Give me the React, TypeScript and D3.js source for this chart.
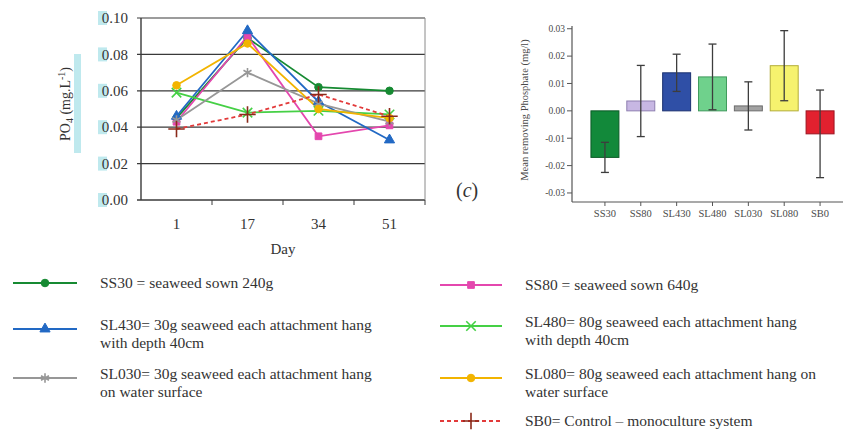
import React from "react";
import * as d3 from "d3";

// day-by-day PO4 (mg/L)
const days = ["1", "17", "34", "51"];
const ss30 = [0.045, 0.089, 0.062, 0.06];
const ss80 = [0.043, 0.09, 0.035, 0.041];
const sl430 = [0.046, 0.093, 0.054, 0.033];
const sl480 = [0.059, 0.048, 0.049, 0.047];
const sl030 = [0.044, 0.07, 0.053, 0.043];
const sl080 = [0.063, 0.086, 0.05, 0.045];
const sb0 = [0.039, 0.047, 0.058, 0.046];
const lineTicks = [0, 0.02, 0.04, 0.06, 0.08, 0.1];

// mean removing phosphate
const groups = ["SS30", "SS80", "SL430", "SL480", "SL030", "SL080", "SB0"];
const means = [-0.017, 0.0036, 0.0139, 0.0124, 0.0018, 0.0165, -0.0084];
const errs = [0.0055, 0.013, 0.0068, 0.012, 0.0088, 0.0128, 0.016];
const barTicks = [0.03, 0.02, 0.01, 0, -0.01, -0.02, -0.03];
const barColors = ["#12893a", "#c7b7e3", "#2f4fa6", "#6fd18c", "#a2a2a2", "#f6f26e", "#e2212f"];
const barEdges = ["#0b5a26", "#8e7fb0", "#1b3170", "#3f9a5c", "#6c6c6c", "#b3ad3a", "#9c1420"];

const series = [
  { key: "SS30", values: ss30, color: "#168a32", symbol: "circle", dash: null },
  { key: "SS80", values: ss80, color: "#e447ae", symbol: "square", dash: null },
  { key: "SL430", values: sl430, color: "#2269c4", symbol: "triangle", dash: null },
  { key: "SL480", values: sl480, color: "#45d045", symbol: "times", dash: null },
  { key: "SL030", values: sl030, color: "#979797", symbol: "asterisk", dash: null },
  { key: "SL080", values: sl080, color: "#f2b400", symbol: "circle", dash: null },
  { key: "SB0", values: sb0, color: "#e23a3a", symbol: "plus", dash: "4,3" },
];

const legendLeft = [
  { s: 0, lines: ["SS30 = seaweed sown 240g"] },
  { s: 2, lines: ["SL430= 30g seaweed each attachment  hang", "with depth 40cm"] },
  { s: 4, lines: ["SL030= 30g seaweed each attachment hang", "on water surface"] },
];
const legendRight = [
  { s: 1, lines: ["SS80 = seaweed sown 640g"] },
  { s: 3, lines: ["SL480= 80g seaweed each attachment hang", "with depth 40cm"] },
  { s: 5, lines: ["SL080= 80g seaweed each attachment hang on", "water surface"] },
  { s: 6, lines: ["SB0= Control \u2013 monoculture system"] },
];

const symbolTypes: any = {
  circle: d3.symbolCircle,
  square: d3.symbolSquare,
  triangle: d3.symbolTriangle,
  times: d3.symbolTimes,
  asterisk: d3.symbolAsterisk,
  plus: d3.symbolPlus,
};
const strokeSymbols = ["times", "asterisk", "plus"];

function Marker({ s, x, y }: any) {
  const sr = series[s];
  const size = sr.symbol === "plus" ? 90 : strokeSymbols.includes(sr.symbol) ? 60 : 45;
  const path = d3.symbol(symbolTypes[sr.symbol], size)();
  const stroked = strokeSymbols.includes(sr.symbol);
  const col = sr.key === "SB0" ? "#8a2a1a" : sr.color;
  return (
    <path
      d={path || ""}
      transform={`translate(${x},${y})`}
      fill={stroked ? "none" : col}
      stroke={col}
      strokeWidth={stroked ? 1.6 : 1}
    />
  );
}

export default function App() {
  const font = "Liberation Serif, DejaVu Serif, serif";

  // line chart
  const x = d3.scaleBand().domain(days).range([141, 425]);
  const y = d3.scaleLinear().domain([0, 0.1]).range([200, 18]);
  const line = (vals: number[]) =>
    d3
      .line<number>()
      .x((_, i) => (x(days[i]) as number) + x.bandwidth() / 2)
      .y((d) => y(d))(vals);

  // bar chart
  const bx = d3.scaleBand().domain(groups).range([587, 838]).paddingInner(0.22).paddingOuter(0.11);
  const by = d3.scaleLinear().domain([-0.0333, 0.031]).range([202, 26]);

  return (
    <svg
      width={843}
      height={430}
      style={{ position: "absolute", left: 0, top: 0, background: "#fff", fontFamily: font }}
    >
      {/* ---------- left line chart ---------- */}
      {lineTicks.map((t) => (
        <g key={t}>
          <line x1={137} x2={425} y1={y(t)} y2={y(t)} stroke="#3a3a3a" strokeWidth={t === 0 ? 1.4 : 1.2} />
          <rect x={98} y={y(t) - 7} width={9} height={14} fill="#bfe9ee" />
          <text x={128} y={y(t)} dy="0.35em" textAnchor="end" fontSize={15} fill="#333">
            {t.toFixed(2)}
          </text>
        </g>
      ))}
      <line x1={141} x2={141} y1={y(0.1)} y2={y(0)} stroke="#3a3a3a" strokeWidth={1.4} />
      <line x1={425} x2={425} y1={y(0.1)} y2={y(0)} stroke="#8a8a8a" strokeWidth={1} />
      {days.map((d, i) => (
        <g key={d}>
          <line
            x1={(x(d) as number) + x.bandwidth()}
            x2={(x(d) as number) + x.bandwidth()}
            y1={200}
            y2={205}
            stroke="#3a3a3a"
          />
          <text
            x={(x(d) as number) + x.bandwidth() / 2}
            y={224}
            dy="0.35em"
            textAnchor="middle"
            fontSize={15}
            fill="#333"
          >
            {d}
          </text>
        </g>
      ))}
      <text x={283} y={249} dy="0.35em" textAnchor="middle" fontSize={15} fill="#333">
        Day
      </text>
      <rect x={74} y={54} width={7} height={99} fill="#bfe9ee" />
      <text transform="translate(70,104) rotate(-90)" textAnchor="middle" fontSize={14} fill="#333">
        PO<tspan fontSize={10} dy={3}>4</tspan>
        <tspan dy={-3}> (mg.L</tspan>
        <tspan fontSize={10} dy={-5}>-1</tspan>
        <tspan dy={5}>)</tspan>
      </text>

      {series.map((sr) => (
        <path
          key={sr.key}
          d={line(sr.values) || ""}
          fill="none"
          stroke={sr.color}
          strokeWidth={1.8}
          strokeDasharray={sr.dash || undefined}
        />
      ))}
      {series.map((sr, s) =>
        sr.values.map((v, i) => (
          <Marker key={sr.key + i} s={s} x={(x(days[i]) as number) + x.bandwidth() / 2} y={y(v)} />
        ))
      )}

      <text x={456} y={197} fontSize={20} fill="#333">
        (<tspan fontStyle="italic">c</tspan>)
      </text>

      {/* ---------- right bar chart ---------- */}
      <line x1={572} x2={572} y1={26} y2={202} stroke="#555" strokeWidth={1.2} />
      <line x1={572} x2={843} y1={202} y2={202} stroke="#555" strokeWidth={1.2} />
      {barTicks.map((t) => (
        <g key={t}>
          <line x1={567} x2={572} y1={by(t)} y2={by(t)} stroke="#555" />
          <text x={565} y={by(t)} dy="0.35em" textAnchor="end" fontSize={9.5} fill="#4a4a4a">
            {t.toFixed(2)}
          </text>
        </g>
      ))}
      <text
        transform="translate(528,110) rotate(-90)"
        textAnchor="middle"
        fontSize={10.5}
        fill="#4a4a4a"
      >
        Mean removing Phosphate (mg/l)
      </text>
      {groups.map((g, i) => {
        const cx = (bx(g) as number) + bx.bandwidth() / 2;
        const top = by(Math.max(0, means[i]));
        const bot = by(Math.min(0, means[i]));
        return (
          <g key={g}>
            <rect
              x={bx(g) as number}
              y={top}
              width={bx.bandwidth()}
              height={Math.max(bot - top, 1)}
              fill={barColors[i]}
              stroke={barEdges[i]}
              strokeWidth={1}
            />
            <line x1={cx} x2={cx} y1={by(means[i] + errs[i])} y2={by(means[i] - errs[i])} stroke="#3d3d3d" strokeWidth={1.3} />
            <line x1={cx - 4} x2={cx + 4} y1={by(means[i] + errs[i])} y2={by(means[i] + errs[i])} stroke="#3d3d3d" strokeWidth={1.3} />
            <line x1={cx - 4} x2={cx + 4} y1={by(means[i] - errs[i])} y2={by(means[i] - errs[i])} stroke="#3d3d3d" strokeWidth={1.3} />
            <line x1={cx} x2={cx} y1={202} y2={206} stroke="#555" />
            <text x={cx} y={213} dy="0.35em" textAnchor="middle" fontSize={10.5} fill="#4a4a4a">
              {g}
            </text>
          </g>
        );
      })}

      {/* ---------- legend ---------- */}
      {[
        { items: legendLeft, x0: 13, x1: 77, tx: 100, ys: [283, 325, 374] },
        { items: legendRight, x0: 440, x1: 502, tx: 525, ys: [285, 322, 374, 421] },
      ].map((col, c) =>
        col.items.map((it, k) => {
          const sr = series[it.s];
          const ly = it.lines.length > 1 ? col.ys[k] + 4 : col.ys[k];
          return (
            <g key={c + "-" + k}>
              <line
                x1={col.x0}
                x2={col.x1}
                y1={ly}
                y2={ly}
                stroke={sr.color}
                strokeWidth={1.8}
                strokeDasharray={sr.dash || undefined}
              />
              <Marker s={it.s} x={(col.x0 + col.x1) / 2} y={ly} />
              {it.lines.map((t, j) => (
                <text key={j} x={col.tx} y={col.ys[k] + j * 18} dy="0.35em" fontSize={15.5} fill="#333">
                  {t}
                </text>
              ))}
            </g>
          );
        })
      )}
    </svg>
  );
}
